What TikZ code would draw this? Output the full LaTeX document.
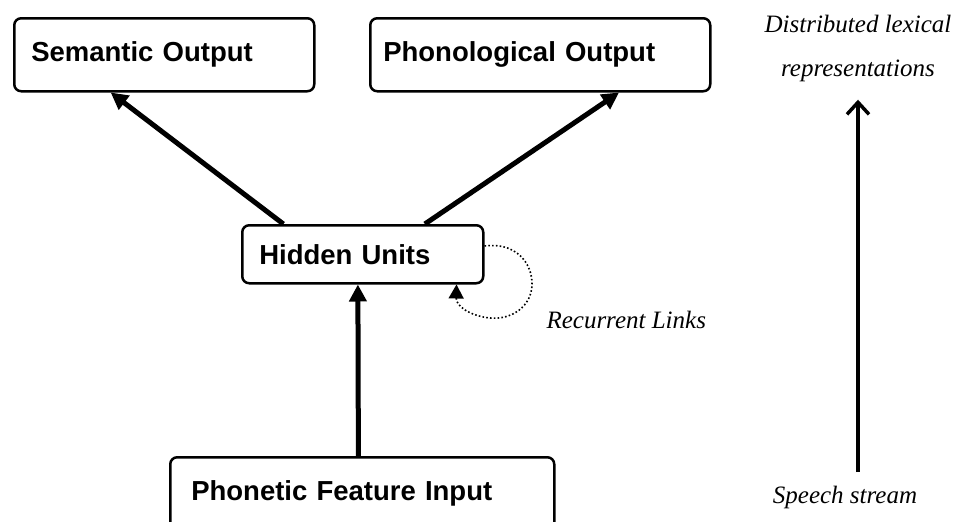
\documentclass[tikz,border=0pt]{standalone}
\usepackage{fontspec}
\setmainfont{Liberation Serif}
\setsansfont{Liberation Sans}
\usetikzlibrary{arrows.meta, positioning, calc}

\tikzset{
    unitbox/.style={draw, line width=2.5pt, rounded corners=7pt, align=left,
        font=\sffamily\bfseries\fontsize{27.5}{33}\selectfont, anchor=north west},
    weights/.style={line width=5pt, -{Triangle[length=17pt, width=17pt]}},
    recurlink/.style={line width=1.6pt, dash pattern=on 1.6pt off 2.2pt,
        -{Triangle[length=14pt, width=15pt]}},
    note/.style={font=\itshape\fontsize{25}{44}\selectfont, align=center}
}

\begin{document}
\begin{tikzpicture}[x=1pt, y=-1pt]
    \useasboundingbox (0,0) rectangle (956,522);

    % === LAYERS ===
    \node[unitbox, text width=266pt, inner xsep=17pt, minimum height=73pt] (sem) at (13,17) {Semantic Output};
    \node[unitbox, text width=314pt, inner xsep=13pt, minimum height=73pt] (phon) at (369,17) {Phonological Output};
    \node[unitbox, text width=207pt, inner xsep=17pt, minimum height=58pt] (hid) at (241,224) {Hidden Units};
    \node[unitbox, text width=342pt, inner xsep=21pt, minimum height=72pt] (inp) at (169,456) {Phonetic Feature Input};

    % === CONNECTIONS ===
    \draw[weights] ($(inp.north west)!0.49!(inp.north east)$) -- ($(hid.south west)!0.48!(hid.south east)$);
    \draw[weights] ($(hid.north west)!0.174!(hid.north east)$) -- ($(sem.south west)!0.323!(sem.south east)$);
    \draw[weights] ($(hid.north west)!0.755!(hid.north east)$) -- ($(phon.south west)!0.73!(phon.south east)$);

    % recurrent loop on the hidden layer
    \coordinate (loopout) at ($(hid.north east)+(0,22)$);
    \coordinate (loopin) at ($(hid.south east)+(-28,0)$);
    \draw[recurlink] (loopout) .. controls (515,242) and (532,262) .. (532,284)
        .. controls (532,306) and (512,320) .. (490,318)
        .. controls (470,316) and (456,306) .. (loopin);
    \node[note, anchor=base west] (recur) at (543,328) {Recurrent Links};

    % === PROCESSING DIRECTION ===
    \node[note, anchor=north] (lexrep) at (858,12) {Distributed lexical\\representations};
    \node[note, anchor=base] (speech) at (845,503) {Speech stream};
    \draw[line width=3.5pt, -{Straight Barb[length=12pt, width=22pt]}, shorten <=10pt, shorten >=14pt]
        (speech.north -| lexrep.south) -- (lexrep.south);
\end{tikzpicture}
\end{document}
